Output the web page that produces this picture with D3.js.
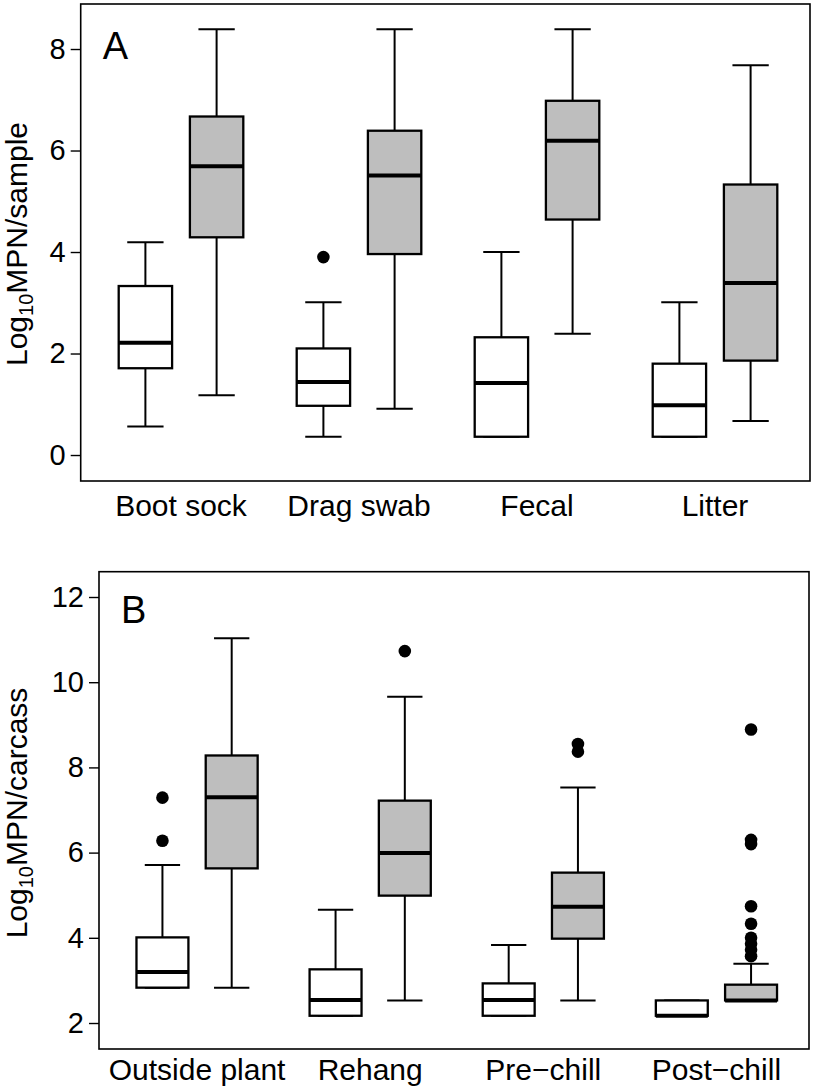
<!DOCTYPE html>
<html><head><meta charset="utf-8">
<script src="https://cdn.jsdelivr.net/npm/d3@7"></script>
<style>body{margin:0;background:#fff}</style>
</head><body>
<svg id="chart" width="814" height="1089" xmlns="http://www.w3.org/2000/svg"></svg>
<script>
// ---------- DATA ----------
// five-number summaries: [lower whisker, Q1, median, Q3, upper whisker]
const categoriesA = ["Boot sock", "Drag swab", "Fecal", "Litter"];
const seriesNames = ["Open", "Filled"];
const statsA_open = [
  [0.56, 1.71, 2.21, 3.33, 4.19],
  [0.36, 0.97, 1.44, 2.10, 3.01],
  [0.36, 0.36, 1.42, 2.32, 4.00],
  [0.36, 0.36, 0.98, 1.80, 3.01]
];
const statsA_filled = [
  [1.18, 4.29, 5.69, 6.67, 8.39],
  [0.91, 3.96, 5.51, 6.39, 8.39],
  [2.39, 4.64, 6.19, 6.98, 8.39],
  [0.67, 1.86, 3.39, 5.33, 7.68]
];
const outliersA_open = [[], [3.90], [], []];
const outliersA_filled = [[], [], [], []];
const ticksA = [0, 2, 4, 6, 8];

const categoriesB = ["Outside plant", "Rehang", "Pre\u2212chill", "Post\u2212chill"];
const statsB_open = [
  [2.83, 2.83, 3.20, 4.01, 5.71],
  [2.17, 2.17, 2.54, 3.26, 4.66],
  [2.17, 2.17, 2.54, 2.93, 3.83],
  [2.17, 2.17, 2.17, 2.53, 2.53]
];
const statsB_filled = [
  [2.83, 5.63, 7.30, 8.28, 11.03],
  [2.53, 4.99, 5.99, 7.22, 9.66],
  [2.53, 3.98, 4.73, 5.53, 7.53],
  [2.53, 2.53, 2.53, 2.90, 3.39]
];
const outliersB_open = [[6.28, 7.29], [], [], []];
const outliersB_filled = [[], [10.73], [8.37, 8.55], [3.57, 3.72, 3.86, 4.00, 4.33, 4.74, 6.20, 6.30, 8.89]];
const ticksB = [2, 4, 6, 8, 10, 12];

// ---------- DRAW ----------
const svg = d3.select("#chart");
svg.append("rect").attr("width", 814).attr("height", 1089).attr("fill", "#fff");
const FONT = "'Liberation Sans', Arial, Helvetica, sans-serif";

function panel(cfg) {
  const g = svg.append("g");
  const y = d3.scaleLinear().domain(cfg.yDomain).range([cfg.frame.bottom, cfg.frame.top]);
  const x = d3.scaleBand().domain(cfg.categories).range(cfg.bandRange).padding(0);
  const step = x.step();
  const boxW = 0.3 * step;
  const capW = 0.68 * boxW;

  const sets = [
    {stats: cfg.open, out: cfg.outOpen, off: -0.2, fill: "#ffffff"},
    {stats: cfg.filled, out: cfg.outFilled, off: 0.2, fill: "#bebebe"}
  ];

  sets.forEach(s => {
    cfg.categories.forEach((c, i) => {
      const st = s.stats[i];
      const cx = x(c) + step / 2 + s.off * step;
      g.append("line").attr("x1", cx).attr("x2", cx).attr("y1", y(st[3])).attr("y2", y(st[4]))
        .attr("stroke", "#000").attr("stroke-width", 2);
      g.append("line").attr("x1", cx).attr("x2", cx).attr("y1", y(st[1])).attr("y2", y(st[0]))
        .attr("stroke", "#000").attr("stroke-width", 2);
      [st[0], st[4]].forEach(v => {
        g.append("line").attr("x1", cx - capW / 2).attr("x2", cx + capW / 2)
          .attr("y1", y(v)).attr("y2", y(v)).attr("stroke", "#000").attr("stroke-width", 2);
      });
      g.append("rect").attr("x", cx - boxW / 2).attr("width", boxW)
        .attr("y", y(st[3])).attr("height", Math.max(0, y(st[1]) - y(st[3])))
        .attr("fill", s.fill).attr("stroke", "#000").attr("stroke-width", 2.3);
      g.append("line").attr("x1", cx - boxW / 2).attr("x2", cx + boxW / 2)
        .attr("y1", y(st[2])).attr("y2", y(st[2])).attr("stroke", "#000").attr("stroke-width", 4);
      s.out[i].forEach(v => {
        g.append("circle").attr("cx", cx).attr("cy", y(v)).attr("r", 6.3).attr("fill", "#000");
      });
    });
  });

  const f = cfg.frame;
  g.append("rect").attr("x", f.left).attr("y", f.top).attr("width", f.right - f.left)
    .attr("height", f.bottom - f.top).attr("fill", "none").attr("stroke", "#000").attr("stroke-width", 1.6);

  const yAxis = d3.axisLeft(y).tickValues(cfg.ticks).tickSize(10).tickPadding(5).tickFormat(d3.format("d"));
  const ya = g.append("g").attr("transform", `translate(${f.left},0)`).call(yAxis);
  ya.select(".domain").remove();
  ya.selectAll(".tick line").attr("stroke", "#000").attr("stroke-width", 1.4);
  ya.selectAll(".tick text").attr("font-family", FONT).attr("font-size", 29).attr("fill", "#000");

  cfg.categories.forEach(c => {
    g.append("text").attr("x", x(c) + step / 2).attr("y", cfg.labelY)
      .attr("text-anchor", "middle").attr("font-family", FONT).attr("font-size", 30)
      .attr("fill", "#000").text(c);
  });

  const t = g.append("text").attr("transform", `translate(${cfg.titleX},${cfg.titleY}) rotate(-90)`)
    .attr("text-anchor", "middle").attr("font-family", FONT).attr("font-size", 30).attr("fill", "#000");
  t.append("tspan").text("Log");
  t.append("tspan").attr("font-size", 20).attr("dy", 6).text("10");
  t.append("tspan").attr("dy", -6).text(cfg.titleUnit);

  g.append("text").attr("x", f.left + 22).attr("y", cfg.letterY).attr("font-family", FONT)
    .attr("font-size", 38).attr("fill", "#000").text(cfg.letter);
}

panel({
  categories: categoriesA, open: statsA_open, filled: statsA_filled,
  outOpen: outliersA_open, outFilled: outliersA_filled, ticks: ticksA,
  yDomain: [-0.512, 8.887], frame: {left: 80.7, right: 810, top: 4, bottom: 481},
  bandRange: [92, 804], labelY: 516, titleX: 27, titleY: 244, titleUnit: "MPN/sample",
  letter: "A", letterY: 58.5
});

panel({
  categories: categoriesB, open: statsB_open, filled: statsB_filled,
  outOpen: outliersB_open, outFilled: outliersB_filled, ticks: ticksB,
  yDomain: [1.39, 12.594], frame: {left: 99, right: 809, top: 571.7, bottom: 1049},
  bandRange: [110.5, 803], labelY: 1080, titleX: 27, titleY: 813, titleUnit: "MPN/carcass",
  letter: "B", letterY: 622.5
});
</script>
</body></html>
